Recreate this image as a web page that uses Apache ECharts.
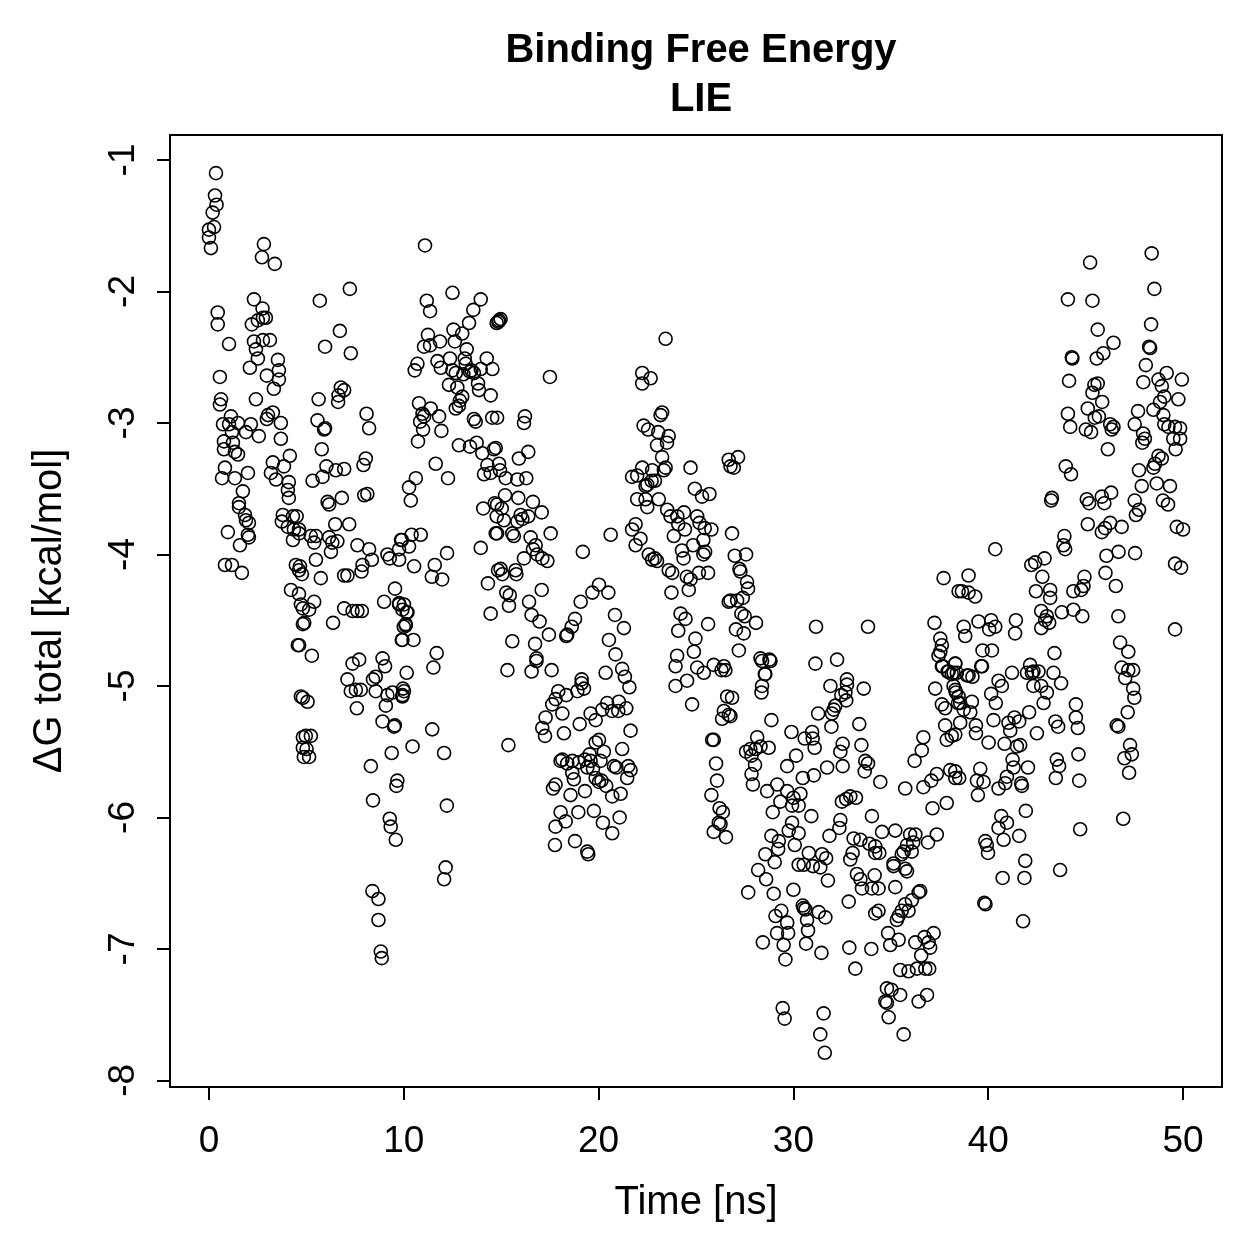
<!DOCTYPE html>
<html>
<head>
<meta charset="utf-8">
<script src="https://cdn.jsdelivr.net/npm/echarts@6/dist/echarts.min.js"></script>
<style>
html,body{margin:0;padding:0;background:#fff;}
#chart{width:1259px;height:1259px;}
</style>
</head>
<body>
<div id="chart"></div>
<script>
// Tick labels
const xTicks = [0, 10, 20, 30, 40, 50];
const yTicks = [-8, -7, -6, -5, -4, -3, -2, -1];

// [time (ns), ΔG total (kcal/mol)], grouped by time span
const pts0to5 = [[0.36,-1.10],[0.31,-1.27],[0.39,-1.34],[0.19,-1.40],[0.26,-1.51],[0.0,-1.53],[0.0,-1.59],[0.1,-1.67],
[0.45,-2.16],[0.45,-2.25],[1.03,-2.40],[0.56,-2.65],[0.62,-2.82],[0.56,-2.86],[1.13,-2.95],[1.03,-3.01],[1.49,-3.0],[0.72,-3.01],[1.18,-3.07],[0.77,-3.14],[1.23,-3.15],[1.33,-3.22],[0.77,-3.20],[1.49,-3.24],[0.82,-3.34],[0.67,-3.42],[1.33,-3.42],[2.0,-3.38],[1.74,-3.52],[1.54,-3.61],[1.54,-3.64],[1.85,-3.70],[1.9,-3.74],[2.05,-3.76],[0.97,-3.83],[2.0,-3.85],[2.05,-3.87],[1.59,-3.93],[0.82,-4.08],[1.18,-4.08],[1.69,-4.14],
[2.31,-2.06],[2.75,-2.13],[2.77,-2.2],[2.51,-2.22],[2.92,-2.2],[2.2,-2.25],[2.31,-2.38],[2.77,-2.37],[3.13,-2.37],[2.41,-2.44],[2.51,-2.51],[2.1,-2.58],[3.54,-2.52],[3.59,-2.6],[2.97,-2.64],[3.59,-2.67],[3.33,-2.74],[2.41,-2.82],[3.03,-2.94],[3.28,-2.92],[2.97,-2.97],[3.69,-3.0],[2.15,-3.01],[1.9,-3.07],[2.56,-3.1],[3.69,-3.12],[4.15,-3.25],[3.85,-3.33],[3.28,-3.3],[3.18,-3.38],[3.44,-3.43],[4.1,-3.45],[4.05,-3.51],[4.1,-3.57],[3.79,-3.7],[4.31,-3.71],[3.74,-3.75],[4.05,-3.79],[4.36,-3.81],[4.62,-3.81],[4.31,-3.89],[2.82,-1.64],[2.72,-1.74],[3.38,-1.79],[4.46,-4.08],[4.67,-4.09],[4.62,-4.12],[4.21,-4.27],[4.62,-4.3],[4.82,-4.41],[4.82,-4.53],[4.56,-4.69],[4.82,-5.09],[4.82,-5.39],[4.82,-5.47],[4.87,-5.54]];

const pts5to10 = [[7.23,-1.98],[5.69,-2.07],[6.72,-2.30],[5.96,-2.42],[7.28,-2.47],[6.77,-2.73],[6.94,-2.75],[6.65,-2.79],[6.63,-2.84],[5.63,-2.82],[8.09,-2.93],[5.57,-2.98],[5.96,-3.04],[5.91,-3.05],[8.22,-3.04],[5.79,-3.2],[8.05,-3.27],[7.93,-3.32],[6.03,-3.33],[5.83,-3.41],[5.32,-3.44],[6.51,-3.36],[6.94,-3.35],[7.97,-3.55],[8.13,-3.54],[6.09,-3.6],[6.17,-3.62],[6.82,-3.57],[4.5,-3.71],[6.48,-3.77],[7.2,-3.77],[4.63,-3.84],[5.23,-3.86],[5.49,-3.86],[5.4,-3.91],[6.17,-3.87],[6.33,-3.91],[6.59,-3.9],[6.26,-3.98],[7.62,-3.93],[8.22,-3.96],[8.36,-4.04],[7.88,-4.08],[7.83,-4.13],[5.49,-4.04],[4.77,-4.15],[5.74,-4.18],[6.94,-4.16],[7.11,-4.16],[9.16,-4.0],[9.28,-4.03],[9.76,-4.04],[9.86,-3.89],[9.55,-4.26],[8.99,-4.36],[9.76,-4.38],[9.93,-4.42],[5.4,-4.36],[5.14,-4.42],[4.72,-4.38],[6.94,-4.41],[7.37,-4.43],[7.62,-4.43],[7.85,-4.43],[4.89,-4.52],[6.37,-4.52],
[10.0,-4.55],[9.9,-4.65],[4.63,-4.69],[5.28,-4.77],[7.37,-4.83],[7.71,-4.8],[8.91,-4.79],[9.04,-4.85],[8.56,-4.93],[8.42,-4.95],[8.56,-5.04],[9.16,-5.07],[9.08,-5.15],[7.11,-4.95],[7.28,-5.04],[7.54,-5.03],[7.79,-5.03],[7.59,-5.17],[9.42,-5.05],[9.93,-5.07],[9.96,-5.02],[4.72,-5.08],[5.06,-5.12],[8.91,-5.27],[9.5,-5.31],[4.97,-5.38],[5.23,-5.38],[5.01,-5.48],[5.14,-5.54],[9.38,-5.51],[8.31,-5.61],[9.67,-5.72],[9.62,-5.76],[8.42,-5.87],[9.28,-6.01],[9.33,-6.07],[9.59,-6.17],[8.39,-6.56],[8.7,-6.62],[8.7,-6.78],[8.82,-7.02],[8.87,-7.07]];

const pts10to15 = [[11.09,-1.65],[12.5,-2.01],[11.18,-2.07],[11.35,-2.15],[13.95,-2.06],[13.57,-2.14],[13.35,-2.24],[14.77,-2.24],[14.89,-2.22],[12.55,-2.29],[13.0,-2.32],[11.24,-2.33],[11.04,-2.42],[11.35,-2.41],[11.86,-2.38],[12.62,-2.38],[13.23,-2.44],[13.13,-2.51],[13.18,-2.55],[14.26,-2.51],[14.55,-2.59],[13.95,-2.59],[11.73,-2.53],[11.9,-2.58],[12.37,-2.51],[10.7,-2.55],[10.56,-2.6],[12.5,-2.6],[12.67,-2.62],[13.06,-2.63],[13.47,-2.6],[13.4,-2.61],[13.6,-2.62],[12.32,-2.71],[12.75,-2.73],[13.81,-2.7],[13.86,-2.75],[14.46,-2.79],[13.0,-2.8],[12.88,-2.83],[12.83,-2.87],[12.67,-2.89],[10.78,-2.85],[10.96,-2.93],[11.04,-2.95],[10.84,-2.99],[11.38,-2.89],[11.81,-2.95],[13.6,-2.97],[13.69,-2.99],[14.54,-2.96],[14.79,-2.96],[10.99,-3.05],[11.93,-3.06],[10.73,-3.14],[12.83,-3.17],[13.4,-3.18],[13.74,-3.15],[14.03,-3.23],[14.63,-3.2],[14.29,-3.32],[14.12,-3.39],[14.46,-3.38],[14.94,-3.36],[11.64,-3.31],[12.27,-3.42],[10.62,-3.42],[10.27,-3.49],[10.36,-3.59],[14.08,-3.65],[14.67,-3.61],[14.77,-3.71],[14.72,-3.84],[9.9,-3.89],[10.4,-3.85],[10.27,-3.94],[10.87,-3.85],[9.76,-3.96],[12.22,-3.99],[13.95,-3.95],[10.53,-4.09],[11.59,-4.08],[11.44,-4.17],[11.97,-4.19],[14.84,-4.12],[14.32,-4.22],[9.76,-4.37],[10.15,-4.44],[10.1,-4.53],[14.46,-4.45],
[10.01,-4.38],[10.19,-4.44],[10.1,-4.54],[9.93,-4.65],[10.5,-4.65],[11.69,-4.75],[11.52,-4.86],[10.15,-4.9],[10.01,-5.04],[9.93,-5.08],[9.54,-5.3],[11.46,-5.33],[10.45,-5.46],[12.07,-5.51],[12.21,-5.91],[12.15,-6.38],[12.07,-6.47]];

const pts15to27 = [[14.97,-2.21],[14.86,-2.23],[23.44,-2.36],[17.5,-2.65],[22.24,-2.62],[22.67,-2.66],[22.24,-2.7],[16.22,-2.95],[16.17,-3.0],[23.26,-2.92],[23.18,-2.94],[22.31,-3.02],[22.54,-3.05],[23.06,-3.07],[23.6,-3.1],[23.0,-3.17],[23.51,-3.15],[23.26,-3.26],[14.72,-3.19],[14.89,-3.31],[15.91,-3.27],[16.39,-3.22],[26.77,-3.33],[23.44,-3.34],[23.35,-3.36],[22.24,-3.34],[21.72,-3.41],[21.98,-3.4],[22.75,-3.36],[22.72,-3.44],[22.5,-3.47],[22.41,-3.48],[22.89,-3.44],[24.72,-3.34],[15.23,-3.42],[15.83,-3.43],[16.29,-3.42],[24.94,-3.5],[25.31,-3.56],[25.69,-3.54],[15.2,-3.55],[15.88,-3.57],[16.63,-3.6],[17.08,-3.68],[21.98,-3.58],[22.41,-3.58],[22.5,-3.64],[23.09,-3.58],[14.79,-3.62],[15.03,-3.65],[15.14,-3.74],[16.0,-3.7],[16.09,-3.73],[16.39,-3.71],[15.83,-3.75],[23.52,-3.66],[23.69,-3.71],[24.04,-3.71],[24.38,-3.68],[24.09,-3.77],[24.43,-3.81],[25.06,-3.71],[25.18,-3.76],[25.45,-3.8],[25.79,-3.81],[21.72,-3.81],[21.9,-3.77],[22.15,-3.88],[21.9,-3.93],[14.79,-3.84],[15.57,-3.84],[15.65,-3.86],[16.51,-3.87],[17.54,-3.84],[20.62,-3.85],[23.86,-3.86],[25.38,-3.89],[24.85,-3.93],[16.77,-3.93],[16.63,-3.96],[16.85,-4.0],[17.11,-4.03],[17.37,-4.05],[16.17,-4.03],[19.19,-3.98],[22.58,-4.0],[22.89,-4.03],[23.0,-4.05],[22.75,-4.04],[24.28,-3.97],[24.36,-4.03],[25.38,-4.0],[25.47,-3.98],[14.97,-4.11],[15.06,-4.15],[15.74,-4.12],[15.78,-4.15],[23.6,-4.12],[23.78,-4.14],[24.53,-4.17],[24.72,-4.19],[25.15,-4.14],[25.62,-4.14],[26.68,-4.36],[23.74,-4.29],[24.63,-4.27],[17.08,-4.27],[16.43,-4.36],[16.56,-4.46],[16.97,-4.51],[15.26,-4.29],[15.44,-4.31],[15.4,-4.39],[20.02,-4.23],[19.68,-4.29],[20.5,-4.29],[19.08,-4.36],[20.84,-4.46],[21.3,-4.56],[18.79,-4.49],[18.62,-4.55],[18.39,-4.61],[18.34,-4.62],[17.45,-4.61],[15.57,-4.66],[16.74,-4.68],[16.81,-4.79],[20.53,-4.65],[20.87,-4.76],[24.21,-4.45],[24.46,-4.49],[25.62,-4.53],[24.09,-4.58],[24.97,-4.64],[24.89,-4.74],[24.03,-4.77],[23.95,-4.85],[15.32,-4.88],[16.56,-4.89],[17.59,-4.88],[20.36,-4.9],[21.21,-4.87],[21.35,-4.93],[19.13,-4.95],[25.06,-4.86],[25.4,-4.9],[25.91,-4.84],[26.43,-4.85],[26.31,-4.88],
[16.81,-4.81],[21.58,-5.01],[23.95,-5.0],[24.54,-4.96],[24.8,-5.14],[26.6,-5.08],[26.43,-5.19],[26.34,-5.25],[25.91,-5.41],[25.83,-5.41],[26.03,-5.59],[26.08,-5.72],[25.79,-5.83],[26.21,-5.93],[26.38,-5.96],[26.17,-6.04],[26.26,-6.05],[25.91,-6.11],[26.54,-6.15],[15.37,-5.45],[19.13,-4.98],[19.25,-5.02],[18.91,-5.04],[17.93,-5.04],[18.34,-5.07],[17.79,-5.1],[17.62,-5.14],[18.14,-5.21],[17.28,-5.24],[17.11,-5.32],[17.25,-5.38],[18.22,-5.36],[19.03,-5.29],[19.59,-5.21],[19.85,-5.26],[20.19,-5.18],[20.44,-5.13],[20.69,-5.19],[21.04,-5.12],[21.01,-5.19],[21.42,-5.17],[21.64,-5.34],[20.02,-5.41],[19.85,-5.43],[20.27,-5.5],[21.21,-5.48],[18.14,-5.56],[18.05,-5.57],[18.39,-5.59],[18.65,-5.57],[18.99,-5.58],[19.3,-5.56],[19.54,-5.52],[19.59,-5.57],[19.42,-5.62],[20.1,-5.57],[19.71,-5.63],[19.85,-5.7],[20.15,-5.72],[20.39,-5.76],[20.02,-5.73],[20.79,-5.61],[20.91,-5.62],[21.52,-5.61],[21.64,-5.64],[21.47,-5.7],[21.13,-5.82],[20.7,-5.84],[18.65,-5.66],[18.73,-5.71],[17.79,-5.75],[17.66,-5.78],[18.56,-5.83],[19.3,-5.8],[18.05,-5.96],[18.31,-6.03],[18.96,-5.96],[17.79,-6.07],[19.76,-5.95],[20.22,-6.04],[20.7,-6.12],[21.08,-6.0],[17.76,-6.21],[18.79,-6.18],[19.42,-6.26],[19.47,-6.28]];

const pts27to38 = [[26.68,-3.28],[27.16,-3.26],[26.94,-3.34],[26.85,-3.84],[26.99,-4.01],[27.57,-4.0],[27.23,-4.11],[27.28,-4.13],[27.62,-4.21],[27.67,-4.26],[27.4,-4.33],[26.77,-4.35],[27.11,-4.35],[27.33,-4.45],[27.5,-4.47],[28.08,-4.52],[27.05,-4.57],[27.45,-4.6],[27.2,-4.73],[28.31,-4.79],[28.77,-4.8],[28.53,-4.91],[31.16,-4.55],[33.83,-4.55],[31.13,-4.83],[32.24,-4.8],[37.71,-4.18],[38.48,-4.28],[37.24,-4.52],[37.54,-4.64],[37.62,-4.69],[37.54,-4.74],[37.45,-4.77],[37.66,-4.85],[38.31,-4.83],[37.97,-4.89],[38.22,-4.9],[32.75,-4.95],
[26.51,-4.88],[26.85,-5.09],[26.68,-5.22],[26.77,-5.23],[28.39,-4.81],[28.82,-4.81],[28.56,-4.91],[28.39,-5.0],[28.36,-5.05],[31.9,-5.0],[32.75,-4.99],[32.67,-5.05],[32.46,-5.07],[32.71,-5.11],[33.61,-5.02],[32.15,-5.15],[32.07,-5.18],[31.98,-5.21],[31.27,-5.21],[31.95,-5.31],[33.38,-5.29],[37.28,-5.02],[37.62,-4.85],[37.92,-4.89],[38.13,-4.91],[38.22,-5.0],[38.34,-5.05],[37.62,-5.14],[37.79,-5.17],[38.45,-5.13],[37.79,-5.3],[38.13,-5.38],[37.87,-5.41],[36.67,-5.39],[36.59,-5.49],[36.22,-5.57],[28.87,-5.26],[29.9,-5.35],[30.58,-5.4],[30.96,-5.35],[30.99,-5.4],[31.09,-5.47],[28.14,-5.39],[27.79,-5.48],[28.05,-5.48],[28.31,-5.46],[28.73,-5.47],[27.57,-5.5],[27.85,-5.53],[28.03,-5.6],[27.85,-5.67],[27.92,-5.75],[30.14,-5.53],[29.68,-5.61],[32.53,-5.44],[32.41,-5.5],[33.49,-5.45],[31.73,-5.62],[32.53,-5.61],[33.69,-5.57],[33.83,-5.59],[33.66,-5.65],[34.46,-5.73],[38.05,-5.64],[38.31,-5.7],[37.36,-5.67],[37.08,-5.72],[36.67,-5.77],[35.74,-5.78],[37.87,-5.89],[37.14,-5.93],[30.48,-5.7],[31.05,-5.68],[29.68,-5.8],[29.17,-5.75],[28.65,-5.8],[29.33,-5.88],[30.0,-5.85],[30.36,-5.82],[30.27,-5.91],[29.93,-5.91],[28.94,-5.96],[30.92,-5.99],[32.49,-5.88],[32.71,-5.86],[32.92,-5.84],[33.21,-5.85],[34.03,-5.99],[32.41,-6.02],[32.36,-6.08],[31.85,-6.14],[29.93,-6.04],[29.76,-6.1],[30.27,-6.12],[30.07,-6.21],[28.87,-6.14],[29.25,-6.18],[29.22,-6.24],[28.56,-6.28],[29.04,-6.34],[28.19,-6.4],[28.6,-6.47],[27.68,-6.57],[28.99,-6.58],[30.0,-6.55],[30.79,-6.27],[30.53,-6.36],[31.0,-6.37],[31.38,-6.38],[31.47,-6.28],[31.68,-6.31],[30.27,-6.36],[31.77,-6.48],[33.09,-6.16],[33.44,-6.17],[33.04,-6.27],[32.92,-6.32],[33.26,-6.43],[33.44,-6.47],[33.52,-6.54],[33.9,-6.2],[34.2,-6.22],[34.2,-6.27],[34.41,-6.27],[34.55,-6.11],[35.23,-6.1],[35.14,-6.35],[35.14,-6.37],[35.74,-6.39],[35.83,-6.41],[34.17,-6.44],[34.03,-6.54],[34.37,-6.54],[35.23,-6.53],[35.56,-6.28],[36.07,-6.26],[36.15,-6.19],[35.99,-6.13],[36.26,-6.13],[35.83,-6.21],[35.66,-6.26],[36.91,-6.19],[37.36,-6.13],[36.43,-6.57],[36.51,-6.56],[36.08,-6.63],[35.74,-6.66],[35.56,-6.71],[35.91,-6.71],[35.4,-6.75],[35.31,-6.78],[34.37,-6.71],[34.2,-6.73],[32.84,-6.64],[30.53,-6.69],[30.62,-6.7],[30.48,-6.67],[30.7,-6.78],[30.75,-6.86],[30.65,-6.96],[31.3,-6.72],[31.64,-6.76],[31.44,-7.03],[29.38,-6.71],[29.08,-6.75],[29.68,-6.8],[29.73,-6.88],[29.16,-6.88],[29.5,-6.97],[29.59,-7.08],[28.43,-6.95],[32.87,-6.99],[34.0,-7.0],[33.18,-7.15],[34.86,-6.88],[34.97,-6.97],[35.4,-6.93],[36.26,-6.95],[36.73,-6.91],[36.94,-6.95],[37.2,-6.88],[37.02,-6.99],[36.56,-7.05],[36.34,-7.15],[36.77,-7.15],[36.97,-7.15],[35.48,-7.16],[35.91,-7.17],[34.8,-7.3],[35.03,-7.31],[35.48,-7.35],[34.72,-7.4],[34.8,-7.41],[34.89,-7.52],[36.43,-7.4],[36.86,-7.35],[35.66,-7.65],[29.45,-7.45],[29.55,-7.53],[31.55,-7.49],[31.38,-7.65],[31.61,-7.79]];

const pts38to50 = [[48.39,-1.71],[45.23,-1.78],[48.53,-1.98],[44.09,-2.06],[45.35,-2.07],[45.62,-2.29],[46.43,-2.39],[48.36,-2.25],[48.26,-2.42],[48.31,-2.43],[44.29,-2.5],[44.32,-2.51],[45.57,-2.51],[45.91,-2.47],[48.09,-2.56],[47.96,-2.69],[49.16,-2.62],[48.74,-2.67],[48.91,-2.72],[49.94,-2.67],[49.76,-2.82],[48.82,-2.84],[49.04,-2.8],[48.48,-2.9],[48.99,-2.94],[49.04,-3.01],[49.25,-3.03],[49.59,-3.03],[49.85,-3.04],[49.5,-3.12],[49.85,-3.12],[49.62,-3.2],[44.15,-2.68],[45.45,-2.71],[45.62,-2.7],[45.35,-2.77],[45.85,-2.84],[44.09,-2.93],[44.21,-3.03],[45.11,-2.89],[45.47,-2.96],[45.68,-2.95],[45.01,-3.05],[45.28,-3.07],[46.26,-3.01],[46.43,-3.03],[46.34,-3.05],[46.14,-3.2],[47.69,-2.91],[47.52,-3.01],[47.95,-3.08],[48.04,-3.12],[47.91,-3.15],[48.74,-3.25],[48.91,-3.27],[48.56,-3.31],[48.48,-3.34],[47.74,-3.36],[47.88,-3.48],[48.65,-3.46],[49.33,-3.48],[43.98,-3.33],[44.25,-3.39],[43.27,-3.57],[43.23,-3.59],[45.06,-3.58],[45.18,-3.61],[45.83,-3.56],[45.96,-3.61],[46.31,-3.53],[47.52,-3.59],[47.74,-3.66],[47.58,-3.7],[48.97,-3.59],[49.23,-3.62],[45.11,-3.77],[45.83,-3.83],[46.0,-3.8],[46.26,-3.76],[46.85,-3.79],[49.68,-3.79],[50.0,-3.81],[43.91,-3.86],[43.86,-3.93],[43.95,-3.96],[46.07,-4.01],[46.69,-3.98],[47.54,-3.99],[46.02,-4.14],[46.55,-4.24],[49.59,-4.07],[49.9,-4.1],[40.36,-3.96],[42.21,-4.08],[42.41,-4.06],[42.89,-4.03],[42.78,-4.17],[38.99,-4.16],[38.65,-4.28],[38.99,-4.29],[39.33,-4.32],[42.45,-4.28],[43.18,-4.27],[43.18,-4.33],[44.37,-4.28],[44.77,-4.27],[44.94,-4.17],[44.89,-4.24],[42.72,-4.43],[43.01,-4.47],[42.92,-4.5],[43.13,-4.52],[42.72,-4.56],[43.78,-4.44],[44.37,-4.42],[44.83,-4.47],[46.68,-4.47],[49.59,-4.57],[38.74,-4.55],[38.82,-4.62],[39.5,-4.51],[40.15,-4.5],[40.36,-4.55],[40.05,-4.57],[41.42,-4.5],[41.38,-4.6],[39.71,-4.73],[40.19,-4.73],[39.68,-4.85],[38.31,-4.83],[38.99,-4.92],[43.4,-4.75],[42.15,-4.84],[42.24,-4.9],[42.58,-4.89],[43.35,-4.9],[41.22,-4.9],[46.77,-4.67],[47.19,-4.74],[46.85,-4.86],[47.19,-4.88],[47.44,-4.88],
[38.39,-4.9],[38.9,-4.92],[39.19,-4.93],[39.64,-4.85],[38.31,-5.03],[38.48,-5.08],[38.56,-5.13],[39.16,-5.12],[38.74,-5.18],[39.08,-5.2],[38.56,-5.28],[38.31,-5.37],[40.53,-4.96],[40.7,-5.0],[40.15,-5.06],[40.39,-5.13],[41.99,-4.9],[42.32,-4.89],[42.32,-5.0],[42.72,-5.0],[43.01,-5.05],[42.84,-5.13],[43.74,-4.98],[42.1,-5.2],[39.37,-5.3],[39.37,-5.36],[40.02,-5.43],[40.27,-5.26],[40.84,-5.44],[41.04,-5.28],[41.13,-5.34],[41.35,-5.24],[41.59,-5.27],[41.64,-5.45],[41.47,-5.46],[42.5,-5.36],[43.45,-5.27],[43.59,-5.31],[44.5,-5.14],[44.5,-5.24],[44.6,-5.32],[47.03,-4.94],[47.44,-5.02],[47.5,-5.09],[47.16,-5.2],[46.6,-5.3],[46.68,-5.31],[47.28,-5.45],[47.37,-5.52],[46.99,-5.55],[47.23,-5.66],[46.93,-6.01],[38.31,-5.65],[38.51,-5.7],[39.59,-5.63],[39.42,-5.72],[39.76,-5.73],[39.47,-5.83],[41.25,-5.56],[41.3,-5.62],[42.04,-5.62],[40.96,-5.69],[40.87,-5.74],[40.53,-5.78],[41.69,-5.74],[41.73,-5.76],[43.52,-5.56],[43.64,-5.61],[43.47,-5.7],[44.63,-5.52],[44.67,-5.72],[41.93,-5.95],[40.67,-5.99],[40.96,-6.04],[40.53,-6.08],[40.79,-6.17],[41.59,-6.14],[39.85,-6.18],[39.93,-6.21],[39.99,-6.27],[41.9,-6.33],[40.74,-6.46],[41.86,-6.46],[43.69,-6.4],[44.72,-6.09],[39.8,-6.65],[39.86,-6.66],[41.79,-6.79]];

const allPoints = [].concat(pts0to5, pts5to10, pts10to15, pts15to27, pts27to38, pts38to50);

const FONT = '"Liberation Sans", Arial, Helvetica, sans-serif';
const chart = echarts.init(document.getElementById('chart'), null, {renderer: 'canvas'});
chart.setOption({
  animation: false,
  backgroundColor: '#ffffff',
  title: {
    text: 'Binding Free Energy\nLIE',
    left: 696,
    top: 21,
    textAlign: 'center',
    textStyle: {fontFamily: FONT, fontSize: 40, fontWeight: 'bold', color: '#000', lineHeight: 49}
  },
  grid: {
    left: 170, right: 37, top: 135, bottom: 172,
    show: true, borderColor: '#000', borderWidth: 2, backgroundColor: 'transparent'
  },
  xAxis: {
    type: 'value', min: -2, max: 52,
    name: 'Time [ns]', nameLocation: 'middle', nameGap: 96,
    nameTextStyle: {fontFamily: FONT, fontSize: 40, color: '#000'},
    axisLine: {show: false, onZero: false},
    splitLine: {show: false},
    axisTick: {show: true, length: 13, lineStyle: {color: '#000', width: 2}, customValues: xTicks},
    axisLabel: {fontFamily: FONT, fontSize: 37, color: '#000', margin: 36, customValues: xTicks}
  },
  yAxis: {
    type: 'value', min: -8.05, max: -0.81,
    name: 'ΔG total [kcal/mol]', nameLocation: 'middle', nameGap: 100, nameRotate: 90,
    nameTextStyle: {fontFamily: FONT, fontSize: 40, color: '#000'},
    axisLine: {show: false, onZero: false},
    splitLine: {show: false},
    axisTick: {show: true, length: 13, lineStyle: {color: '#000', width: 2}, customValues: yTicks},
    axisLabel: {fontFamily: FONT, fontSize: 37, color: '#000', margin: 28, rotate: 90, customValues: yTicks}
  },
  series: [{
    type: 'scatter',
    data: allPoints,
    symbol: 'circle',
    symbolSize: 13,
    itemStyle: {color: 'rgba(0,0,0,0)', borderColor: '#000', borderWidth: 1.6, opacity: 1},
    emphasis: {disabled: true},
    silent: true
  }]
});
</script>
</body>
</html>
